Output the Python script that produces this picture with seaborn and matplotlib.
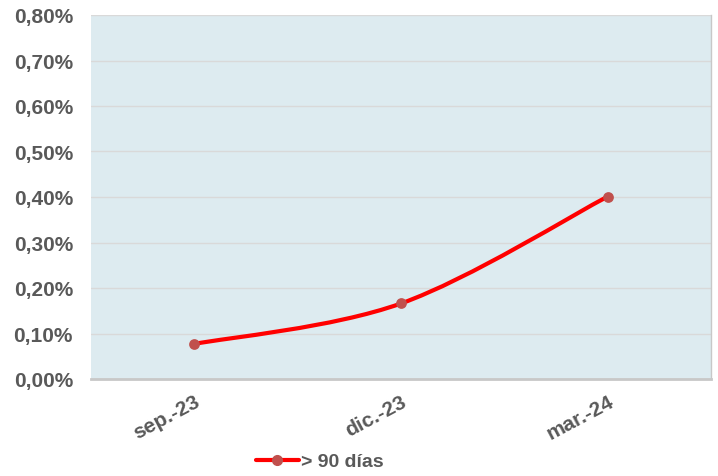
import numpy as np
import pandas as pd
import matplotlib
matplotlib.use('Agg')
import matplotlib.pyplot as plt
from matplotlib.path import Path
from matplotlib.patches import PathPatch
from matplotlib.lines import Line2D
from matplotlib.ticker import FuncFormatter, MultipleLocator
import seaborn as sns

# datos
categorias = ['sep.-23', 'dic.-23', 'mar.-24']
valores = [0.077, 0.166, 0.401]   # en %
serie = '> 90 días'

sns.set_theme(style='white')
plt.rcParams['font.family'] = ['Liberation Sans', 'DejaVu Sans']

TXT = '#595959'
ROJO = '#FF0000'
MARCA = '#C0504D'

df = pd.DataFrame({'x': np.arange(len(categorias)), 'v': valores})

fig = plt.figure(figsize=(7.18, 4.77), dpi=100)
ax = fig.add_axes([91 / 718, 97 / 477, 620 / 718, 364 / 477])
ax.set_facecolor('#DDEBF0')

# línea suavizada (Catmull-Rom -> Bezier en coordenadas de datos)
pts = df[['x', 'v']].to_numpy(dtype=float)
ext = np.vstack([pts[0], pts, pts[-1]])
verts = [tuple(pts[0])]
codes = [Path.MOVETO]
for i in range(len(pts) - 1):
    p0, p1, p2, p3 = ext[i], ext[i + 1], ext[i + 2], ext[i + 3]
    c1 = p1 + (p2 - p0) / 6
    c2 = p2 - (p3 - p1) / 6
    verts += [tuple(c1), tuple(c2), tuple(p2)]
    codes += [Path.CURVE4] * 3
ax.add_patch(PathPatch(Path(verts, codes), facecolor='none', edgecolor=ROJO,
                       lw=3, capstyle='round', zorder=3))

sns.scatterplot(data=df, x='x', y='v', ax=ax, color=MARCA, s=60,
                edgecolor=MARCA, linewidth=0, zorder=4, legend=False)

ax.set_xlim(-0.5, len(categorias) - 0.5)
ax.set_ylim(0, 0.8)
ax.yaxis.set_major_locator(MultipleLocator(0.1))
ax.yaxis.set_major_formatter(FuncFormatter(lambda v, _: f'{v:.2f}%'.replace('.', ',')))
ax.set_xticks(df['x'])
ax.set_xticklabels(categorias, rotation=28, ha='right', rotation_mode='anchor')
ax.set_xlabel('')
ax.set_ylabel('')
ax.grid(axis='y', color='#D9D9D9', lw=1)
ax.set_axisbelow(True)

for lab in ax.get_xticklabels() + ax.get_yticklabels():
    lab.set_fontsize(15)
    lab.set_fontweight('bold')
    lab.set_color(TXT)
ax.tick_params(axis='y', length=0, pad=13)
ax.tick_params(axis='x', length=0, pad=9)

for s in ['top', 'left']:
    ax.spines[s].set_visible(False)
ax.spines['bottom'].set_color('#C8C8C8')
ax.spines['bottom'].set_linewidth(2)
ax.spines['right'].set_color('#C8C8C8')
ax.spines['right'].set_linewidth(1)

handle = Line2D([], [], color=ROJO, lw=3, marker='o', markersize=7,
                markerfacecolor=MARCA, markeredgecolor=MARCA)
fig.legend([handle], [serie], loc='center', bbox_to_anchor=(0.445, 0.03),
           frameon=False, handlelength=2.2, handletextpad=0.1,
           prop={'size': 14, 'weight': 'bold'}, labelcolor=TXT)

fig.savefig('out.png', dpi=100)
